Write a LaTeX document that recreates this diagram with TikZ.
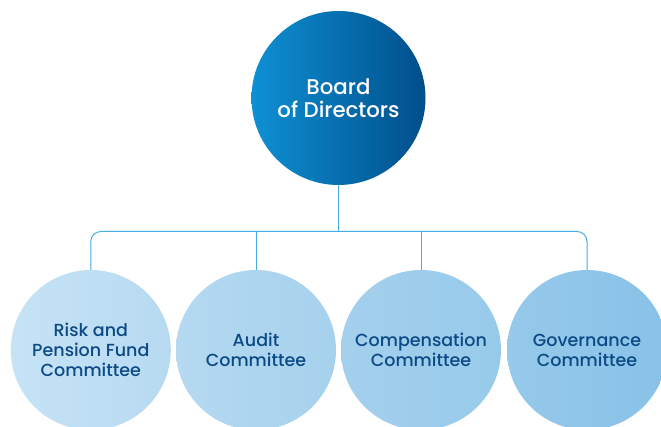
\documentclass[tikz,border=0pt]{standalone}
\usepackage{fontspec}
\setmainfont{Poppins Medium}
\definecolor{bigL}{RGB}{14,144,212}
\definecolor{bigR}{RGB}{0,78,138}
\definecolor{c1L}{RGB}{198,227,246}
\definecolor{c1R}{RGB}{183,218,241}
\definecolor{c2L}{RGB}{181,217,241}
\definecolor{c2R}{RGB}{166,209,237}
\definecolor{c3L}{RGB}{164,208,237}
\definecolor{c3R}{RGB}{151,202,234}
\definecolor{c4L}{RGB}{150,201,234}
\definecolor{c4R}{RGB}{136,194,232}
\definecolor{linecol}{RGB}{70,172,226}
\definecolor{txtdark}{RGB}{12,74,134}
\begin{document}
\begin{tikzpicture}[x=1pt,y=-1pt,
  board/.style={circle,minimum size=174pt,inner sep=0pt,left color=bigL,right color=bigR,
    text=white,align=center,font=\fontsize{21.3}{22.5}\selectfont},
  comm/.style={circle,minimum size=160pt,inner sep=0pt,align=center,text=txtdark,
    font=\fontsize{17.5}{20}\selectfont},
  conn/.style={draw=linecol,line width=1pt,rounded corners=10pt}]
\useasboundingbox (0,0) rectangle (661,427);
\begin{scope}
\clip (0,0) rectangle (661,427);
\node[board] (bod) at (338.5,98) {Board\\of Directors};
\node[comm,left color=c1L,right color=c1R] (c1) at (90.8,350) {Risk and\\Pension Fund\\Committee};
\node[comm,left color=c2L,right color=c2R] (c2) at (256,350) {Audit\\Committee};
\node[comm,left color=c3L,right color=c3R] (c3) at (421,350) {Compensation\\Committee};
\node[comm,left color=c4L,right color=c4R] (c4) at (587,350) {Governance\\Committee};
\coordinate (bar) at (338.5,231.5);
\draw[conn] (bod.south) -- (bar);
\draw[conn] (c1.north) |- (bar) -| (c4.north);
\draw[conn] (c2.north) -- (c2.north |- bar);
\draw[conn] (c3.north) -- (c3.north |- bar);
\end{scope}
\end{tikzpicture}
\end{document}
